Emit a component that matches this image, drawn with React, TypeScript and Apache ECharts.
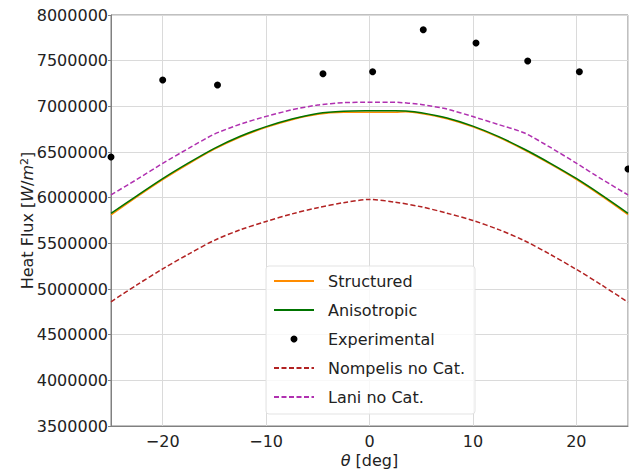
import React, { useEffect, useRef } from "react";
import * as echarts from "echarts";

const thetaSim = [-25, -22.5, -20, -17.5, -15, -12.5, -10, -7.5, -5, -2.5, 0, 2.5, 3.5, 5, 7.5, 10, 12.5, 15, 17.5, 20, 22.5, 25];
const anisotropic = [5829000, 6020000, 6208000, 6380000, 6540000, 6672000, 6778000, 6862000, 6922000, 6946000, 6952000, 6953000, 6950000, 6930000, 6872000, 6783000, 6668000, 6530000, 6376000, 6210000, 6025000, 5829000];
const structured = [5812000, 6008000, 6197000, 6370000, 6531000, 6664000, 6770000, 6854000, 6913000, 6934000, 6935000, 6936000, 6940000, 6922000, 6864000, 6775000, 6660000, 6521000, 6367000, 6200000, 6015000, 5815000];

const thetaRef = [-25, -22.5, -20, -17.5, -15, -12.5, -10, -7.5, -5, -2.5, 0, 2.5, 5, 7.5, 10, 12.5, 15, 17.5, 20, 22.5, 25];
const nompelis = [4860000, 5045000, 5220000, 5382000, 5533000, 5648000, 5740000, 5822000, 5890000, 5945000, 5980000, 5950000, 5900000, 5830000, 5750000, 5650000, 5528000, 5378000, 5215000, 5040000, 4855000];
const lani = [6030000, 6200000, 6376000, 6540000, 6696000, 6805000, 6890000, 6962000, 7015000, 7040000, 7046000, 7045000, 7020000, 6970000, 6888000, 6800000, 6708000, 6550000, 6378000, 6200000, 6030000];

const thetaExp = [-25, -20, -14.7, -4.5, 0.3, 5.2, 10.3, 15.3, 20.3, 25];
const heatExp = [6445000, 7288000, 7234000, 7357000, 7379000, 7839000, 7693000, 7496000, 7379000, 6314000];

const seriesNames = ["Structured", "Anisotropic", "Experimental", "Nompelis no Cat.", "Lani no Cat."];
const xTicks = [-20, -10, 0, 10, 20];

const FONT = "DejaVu Sans";
const TXT = "#222222";

const pair = (xs: number[], ys: number[]) => xs.map((x, i) => [x, ys[i]]);

export default function App() {
  const ref = useRef<HTMLDivElement>(null);
  useEffect(() => {
    document.body.style.margin = "0";
    const chart = echarts.init(ref.current!, null, { renderer: "svg" });
    const hiddenMarker = { color: "rgba(0,0,0,0)", borderColor: "rgba(0,0,0,0)", borderWidth: 0 };
    chart.setOption({
      animation: false,
      backgroundColor: "#ffffff",
      textStyle: { fontFamily: FONT },
      grid: {
        left: 111,
        right: 1,
        top: 15,
        bottom: 50,
        show: true,
        borderColor: "#808080",
        borderWidth: 1,
      },
      xAxis: {
        type: "value",
        min: -25,
        max: 25,
        splitNumber: 5,
        name: "{i|θ} [deg]",
        nameLocation: "middle",
        nameGap: 26,
        nameMoveOverlap: false,
        nameTextStyle: {
          fontFamily: FONT,
          fontSize: 16,
          color: TXT,
          rich: {
            i: { fontFamily: FONT, fontSize: 16, fontStyle: "italic", color: TXT },
          },
        },
        axisLine: { show: true, onZero: false, lineStyle: { color: "#808080" } },
        axisTick: { show: false },
        axisLabel: {
          fontFamily: FONT,
          fontSize: 16,
          color: TXT,
          margin: 7,
          showMinLabel: false,
          showMaxLabel: false,
          formatter: (v: number) =>
            xTicks.indexOf(v) >= 0 ? (v < 0 ? "\u2212" + Math.abs(v) : String(v)) : "",
        },
        splitLine: { show: true, lineStyle: { color: "#dadada", width: 1 } },
      },
      yAxis: {
        type: "value",
        min: 3500000,
        max: 8000000,
        interval: 500000,
        name: "Heat Flux [{i|W}/{i|m}{sup|2}]",
        nameLocation: "middle",
        nameGap: 75,
        nameMoveOverlap: false,
        nameRotate: 90,
        nameTextStyle: {
          fontFamily: FONT,
          fontSize: 16,
          color: TXT,
          rich: {
            i: { fontFamily: FONT, fontSize: 16, fontStyle: "italic", color: TXT },
            sup: { fontFamily: FONT, fontSize: 11, color: TXT, verticalAlign: "top", padding: [0, 0, 6, 0] },
          },
        },
        axisLine: { show: true, onZero: false, lineStyle: { color: "#808080" } },
        axisTick: { show: true, length: 3, lineStyle: { color: "#808080" } },
        axisLabel: {
          fontFamily: FONT,
          fontSize: 16,
          color: TXT,
          margin: 3,
          formatter: (v: number) => String(v),
        },
        splitLine: { show: true, lineStyle: { color: "#dadada", width: 1 } },
      },
      legend: {
        data: [
          { name: seriesNames[0], itemStyle: hiddenMarker },
          { name: seriesNames[1], itemStyle: hiddenMarker },
          { name: seriesNames[2] },
          { name: seriesNames[3], itemStyle: hiddenMarker },
          { name: seriesNames[4], itemStyle: hiddenMarker },
        ],
        orient: "vertical",
        left: 266,
        top: 266,
        padding: [6, 10, 8, 7],
        itemWidth: 40,
        itemHeight: 7,
        itemGap: 11,
        backgroundColor: "rgba(255,255,255,0.8)",
        borderColor: "#e3e3e3",
        borderWidth: 1,
        borderRadius: 3,
        textStyle: {
          fontFamily: FONT,
          fontSize: 16,
          color: TXT,
          lineHeight: 18,
          padding: [0, 0, 0, 9],
        },
      },
      series: [
        {
          name: seriesNames[0],
          type: "line",
          data: pair(thetaSim, structured),
          smooth: 0.3,
          symbol: "none",
          lineStyle: { color: "#ff8c00", width: 1.5 },
          itemStyle: { color: "#ff8c00" },
        },
        {
          name: seriesNames[1],
          type: "line",
          data: pair(thetaSim, anisotropic),
          smooth: 0.3,
          symbol: "none",
          lineStyle: { color: "#007400", width: 1.5 },
          itemStyle: { color: "#007400" },
        },
        {
          name: seriesNames[2],
          type: "scatter",
          data: pair(thetaExp, heatExp),
          symbol: "circle",
          symbolSize: 7,
          clip: true,
          itemStyle: { color: "#000000", opacity: 1 },
        },
        {
          name: seriesNames[3],
          type: "line",
          data: pair(thetaRef, nompelis),
          smooth: 0.3,
          symbol: "none",
          lineStyle: { color: "#b22222", width: 1.5, type: [5, 2.5] },
          itemStyle: { color: "#b22222" },
        },
        {
          name: seriesNames[4],
          type: "line",
          data: pair(thetaRef, lani),
          smooth: 0.2,
          symbol: "none",
          lineStyle: { color: "#b030b0", width: 1.5, type: [5, 2.5] },
          itemStyle: { color: "#b030b0" },
        },
      ],
    });
    return () => chart.dispose();
  }, []);
  return <div ref={ref} style={{ width: 629, height: 476 }} />;
}
